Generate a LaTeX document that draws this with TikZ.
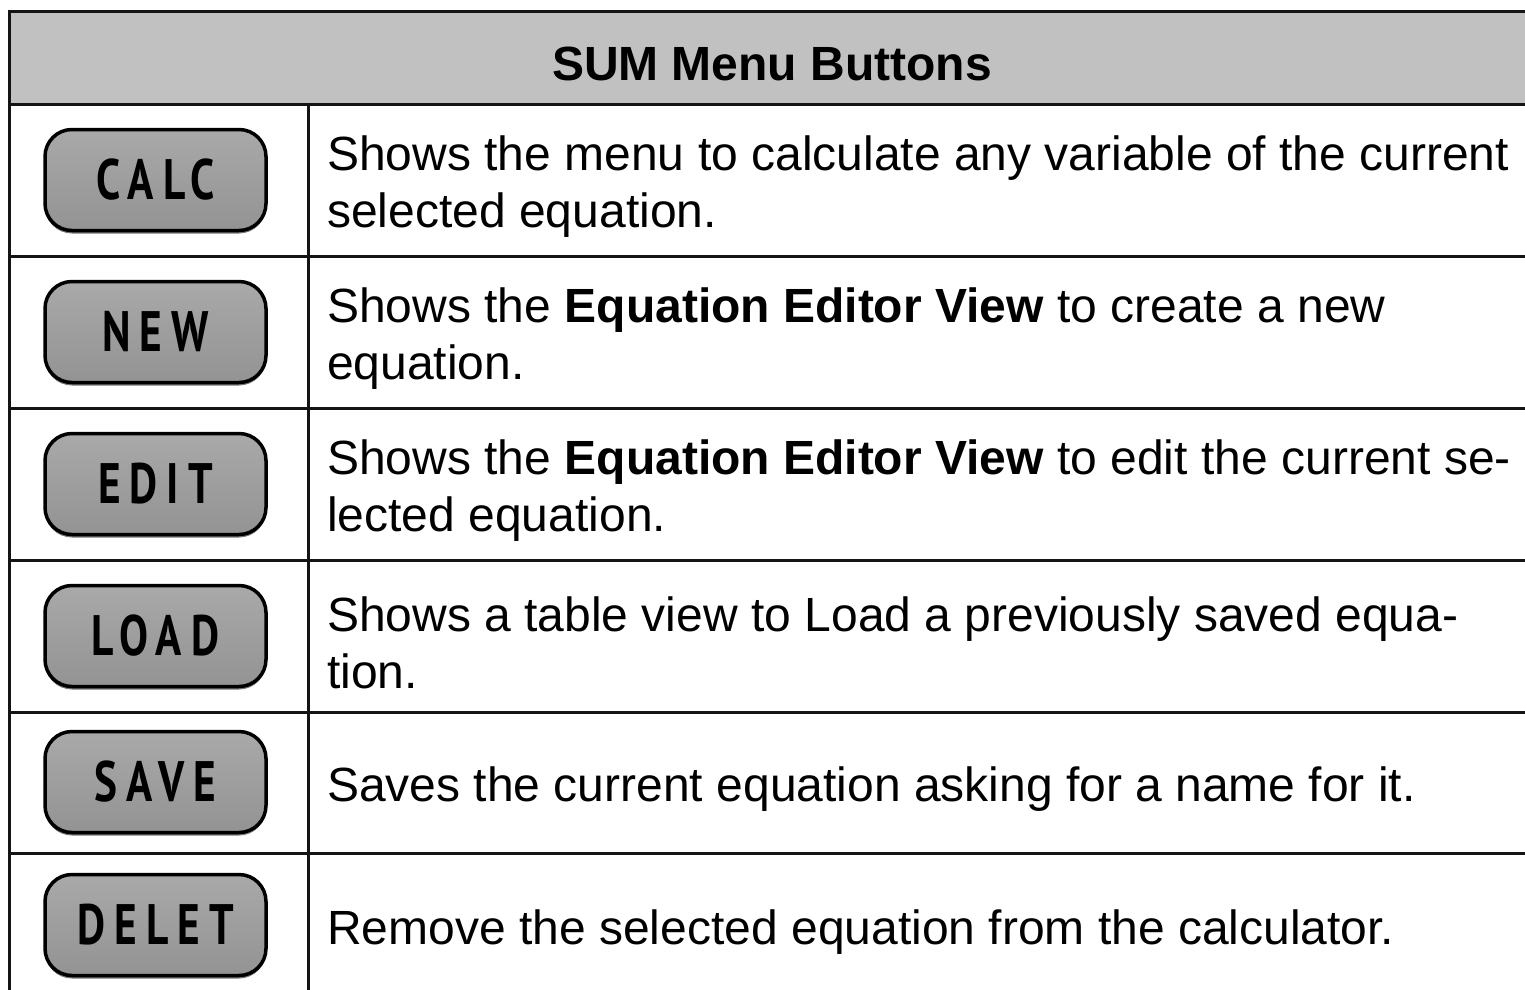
\documentclass[tikz,border=0pt]{standalone}
\usepackage{fontspec}
\setmainfont{Liberation Sans}
\newfontfamily\keyfont[FakeStretch=0.76, LetterSpace=16]{PT Sans}
\usetikzlibrary{positioning}

\definecolor{headgray}{HTML}{C0C1C0}
\definecolor{keytop}{HTML}{A9A9A9}
\definecolor{keymid}{HTML}{A3A3A3}
\definecolor{keybot}{HTML}{939393}
\definecolor{keyrim}{HTML}{767676}

\tikzset{
  tblline/.style={line width=3pt, draw=black!92},
  keybtn/.style={rounded corners=27pt, minimum width=221pt, minimum height=101pt,
    draw=black, line width=3.5pt, top color=keytop, middle color=keymid, bottom color=keybot,
    preaction={fill=keyrim, transform canvas={yshift=-3pt}},
    font=\keyfont\bfseries\fontsize{57}{60}\selectfont, text=black, inner sep=0pt},
  desc/.style={font=\fontsize{48}{57}\selectfont, align=left, inner sep=0pt}
}

\begin{document}
\begin{tikzpicture}[x=1pt, y=-1pt]
  \useasboundingbox (0,0) rectangle (1525,989);
  \fill[white] (0,0) rectangle (1525,989);

  % header row
  \filldraw[headgray, tblline] (9,11) rectangle (1545,104);
  \node[anchor=base, font=\bfseries\fontsize{48}{56}\selectfont] (title) at (772,80) {SUM Menu Buttons};

  % grid
  \draw[tblline] (9,11) -- (9,1000);
  \draw[tblline] (308,104) -- (308,1000);
  \foreach \y in {256,408,560,712,853}
    \draw[tblline] (9,\y) -- (1545,\y);

  % buttons and descriptions
  \foreach \lbl/\ctr/\desc [count=\i] in {
      CALC/180/{Shows the menu to calculate any variable of the current\\selected equation.},
      NEW/332/{Shows the \textbf{Equation Editor View} to create a new\\equation.},
      EDIT/484/{Shows the \textbf{Equation Editor View} to edit the current se-\\lected equation.},
      LOAD/636/{Shows a table view to Load a previously saved equa-\\tion.},
      SAVE/782/{Saves the current equation asking for a name for it.},
      DELET/925/{Remove the selected equation from the calculator.}} {
    \node[keybtn] (key\i) at (155.5,\ctr) {\lbl};
    \node[desc, anchor=west] (desc\i) at (327,\ctr+7) {\desc};
  }
\end{tikzpicture}
\end{document}
